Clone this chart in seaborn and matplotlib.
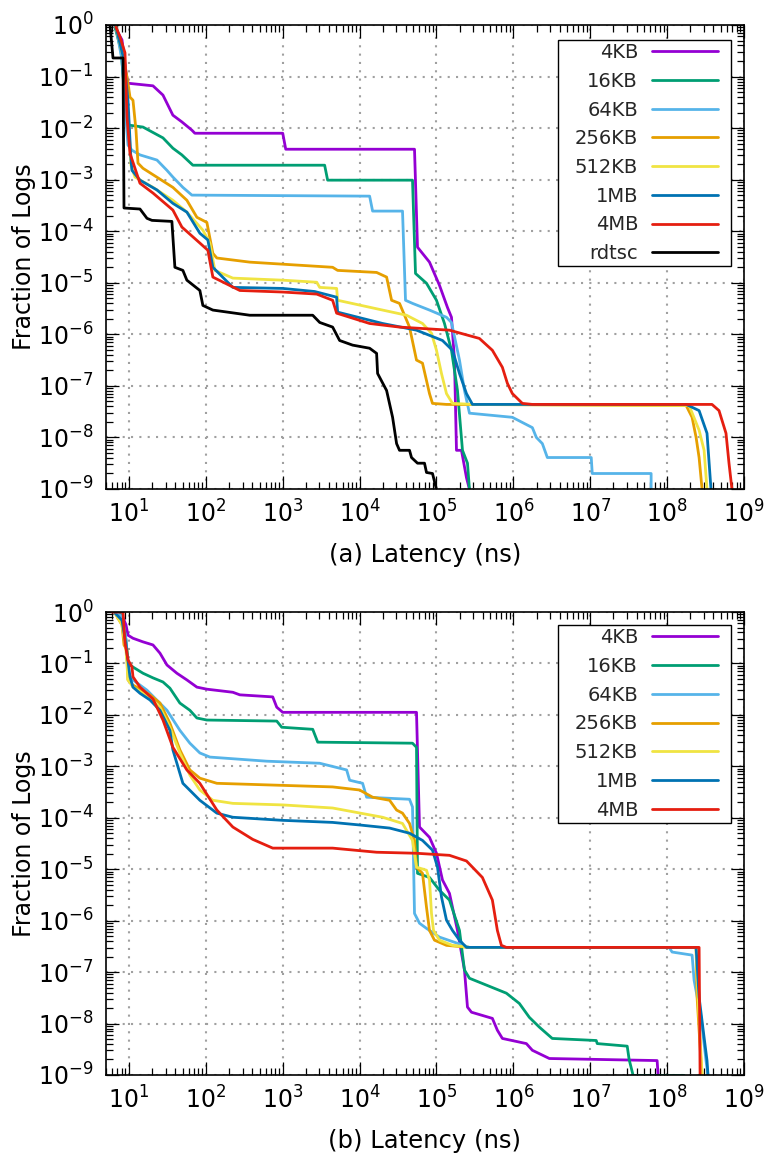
import numpy as np
import pandas as pd
import matplotlib
matplotlib.use("Agg")
import matplotlib.pyplot as plt
import seaborn as sns
from matplotlib.ticker import LogLocator, FixedLocator, NullFormatter
from matplotlib.offsetbox import DrawingArea

# ---------------- data (log10 values) ----------------
SERIES = ["4KB", "16KB", "64KB", "256KB", "512KB", "1MB", "4MB", "rdtsc"]
COLORS = ["#9400d3", "#009e73", "#56b4e9", "#e69f00", "#f0e442", "#0072b2", "#e51e10", "#000000"]

# Panel (a): log10(latency ns), log10(fraction)
A_4KB_X = [0.818, 0.909, 0.961, 0.987, 1.312, 1.442, 1.571, 1.688, 1.818, 1.857, 3.0, 3.039, 4.714, 4.753, 4.909, 5.039, 5.143, 5.195, 5.234, 5.260, 5.325, 5.390, 5.429]
A_4KB_Y = [-0.04, -0.29, -0.91, -1.13, -1.18, -1.36, -1.75, -1.88, -2.04, -2.10, -2.10, -2.41, -2.41, -4.31, -4.60, -5.05, -5.48, -5.67, -6.50, -8.25, -8.25, -8.78, -9.01]
A_16KB_X = [0.818, 0.896, 0.961, 0.987, 1.182, 1.442, 1.571, 1.688, 1.831, 3.545, 3.584, 4.688, 4.727, 4.870, 5.0, 5.104, 5.195, 5.273, 5.338, 5.403, 5.429]
A_16KB_Y = [-0.04, -0.49, -1.65, -1.94, -1.98, -2.19, -2.39, -2.52, -2.72, -2.72, -3.01, -3.01, -4.82, -5.01, -5.34, -5.79, -6.31, -7.09, -8.25, -8.50, -9.01]
A_64KB_X = [0.831, 0.909, 0.961, 0.987, 1.039, 1.143, 1.364, 1.494, 1.571, 1.701, 1.818, 4.130, 4.169, 4.558, 4.597, 4.688, 4.909, 5.130, 5.195, 5.299, 5.364, 5.429, 5.987, 6.117, 6.247, 6.299, 6.377, 6.442, 7.013, 7.026, 7.792, 7.792]
A_64KB_Y = [-0.04, -0.68, -1.84, -2.33, -2.43, -2.52, -2.62, -2.82, -2.95, -3.15, -3.30, -3.32, -3.61, -3.61, -5.34, -5.40, -5.53, -5.67, -5.77, -6.50, -7.09, -7.53, -7.61, -7.71, -7.81, -8.00, -8.12, -8.39, -8.39, -8.70, -8.70, -9.01]
A_256KB_X = [0.831, 0.935, 0.987, 1.013, 1.052, 1.091, 1.117, 1.182, 1.571, 1.753, 1.883, 2.013, 2.091, 2.143, 2.571, 3.649, 3.714, 4.221, 4.351, 4.416, 4.519, 4.649, 4.740, 4.818, 4.909, 4.948, 5.130, 8.247, 8.325, 8.377, 8.416, 8.455]
A_256KB_Y = [-0.04, -0.68, -1.13, -1.40, -1.46, -2.04, -2.68, -2.78, -3.15, -3.40, -3.73, -3.83, -4.43, -4.52, -4.60, -4.70, -4.76, -4.80, -4.89, -5.34, -5.40, -5.86, -6.50, -6.56, -7.15, -7.34, -7.36, -7.38, -7.61, -8.00, -8.39, -9.01]
A_512KB_X = [0.831, 0.935, 0.987, 1.026, 1.078, 1.312, 1.571, 1.753, 1.961, 2.052, 2.117, 2.351, 3.0, 3.442, 3.481, 3.701, 3.714, 4.299, 4.610, 4.818, 4.935, 5.0, 5.065, 5.130, 5.208, 5.468, 8.286, 8.416, 8.481, 8.519]
A_512KB_Y = [-0.04, -0.68, -1.65, -2.72, -2.95, -3.15, -3.40, -3.63, -3.98, -4.23, -4.76, -4.91, -4.95, -4.99, -5.09, -5.11, -5.34, -5.53, -5.63, -5.79, -5.98, -6.31, -6.76, -7.15, -7.34, -7.36, -7.38, -7.86, -8.25, -9.01]
A_1MB_X = [0.831, 0.935, 0.987, 1.026, 1.039, 1.143, 1.364, 1.571, 1.753, 1.922, 2.026, 2.091, 2.351, 3.0, 3.416, 3.701, 3.714, 4.299, 4.740, 5.078, 5.208, 5.299, 5.390, 5.468, 8.247, 8.416, 8.519, 8.571]
A_1MB_Y = [-0.04, -0.68, -1.46, -2.62, -2.82, -3.01, -3.20, -3.46, -3.63, -4.04, -4.17, -4.70, -5.09, -5.11, -5.17, -5.28, -5.57, -5.79, -5.92, -6.12, -6.31, -6.76, -7.15, -7.36, -7.36, -7.48, -7.92, -9.01]
A_4MB_X = [0.831, 0.883, 0.948, 0.974, 1.013, 1.143, 1.312, 1.571, 1.688, 1.922, 2.026, 2.091, 2.442, 3.0, 3.442, 3.649, 3.701, 4.130, 4.519, 5.169, 5.558, 5.727, 5.857, 5.922, 5.987, 6.117, 6.247, 8.584, 8.675, 8.766, 8.805, 8.844]
A_4MB_Y = [-0.04, -0.23, -0.54, -1.79, -2.49, -3.07, -3.26, -3.59, -3.92, -4.23, -4.37, -4.89, -5.15, -5.18, -5.22, -5.34, -5.59, -5.79, -5.86, -5.92, -6.08, -6.31, -6.64, -6.95, -7.15, -7.34, -7.36, -7.36, -7.48, -7.92, -8.50, -9.01]
A_RDTSC_X = [0.753, 0.792, 0.922, 0.935, 1.143, 1.234, 1.299, 1.558, 1.597, 1.701, 1.753, 1.922, 1.961, 2.091, 2.571, 3.390, 3.481, 3.649, 3.740, 3.909, 4.130, 4.221, 4.234, 4.351, 4.429, 4.481, 4.519, 4.649, 4.675, 4.753, 4.844, 4.870, 4.948, 5.0]
A_RDTSC_Y = [0.0, -0.64, -0.64, -3.55, -3.57, -3.75, -3.79, -3.81, -4.70, -4.76, -4.95, -5.15, -5.44, -5.53, -5.63, -5.63, -5.77, -5.86, -6.12, -6.21, -6.27, -6.37, -6.76, -7.09, -7.61, -8.12, -8.25, -8.25, -8.39, -8.50, -8.50, -8.68, -8.70, -9.01]

# Panel (b)
B_4KB_X = [0.818, 0.909, 0.961, 0.974, 0.987, 1.052, 1.182, 1.312, 1.403, 1.494, 1.623, 1.753, 1.883, 2.013, 2.351, 2.442, 2.870, 2.922, 3.0, 4.740, 4.779, 4.909, 5.0, 5.078, 5.169, 5.273, 5.364, 5.403, 5.455, 5.727, 5.792, 5.857, 6.169, 6.247, 6.468, 7.870, 7.883]
B_4KB_Y = [-0.02, -0.06, -0.25, -0.35, -0.45, -0.51, -0.58, -0.64, -0.80, -1.03, -1.19, -1.32, -1.46, -1.50, -1.56, -1.61, -1.65, -1.85, -1.95, -1.95, -4.18, -4.38, -4.69, -5.21, -5.47, -6.19, -6.96, -7.68, -7.78, -7.90, -8.13, -8.29, -8.39, -8.52, -8.68, -8.72, -9.01]
B_16KB_X = [0.818, 0.909, 0.961, 0.987, 1.052, 1.182, 1.312, 1.442, 1.532, 1.662, 1.792, 1.883, 2.013, 2.922, 2.987, 3.390, 3.455, 4.688, 4.740, 4.753, 4.909, 5.039, 5.169, 5.299, 5.364, 5.429, 5.727, 5.909, 6.078, 6.208, 6.338, 6.506, 7.078, 7.091, 7.481, 7.506, 7.558, 8.221]
B_16KB_Y = [-0.02, -0.06, -0.54, -0.99, -1.07, -1.19, -1.28, -1.36, -1.48, -1.77, -1.91, -2.06, -2.10, -2.12, -2.24, -2.28, -2.53, -2.55, -2.63, -5.08, -5.16, -5.41, -5.60, -6.19, -6.96, -7.12, -7.30, -7.41, -7.61, -7.88, -8.07, -8.29, -8.33, -8.39, -8.44, -8.70, -9.01, -9.01]
B_64KB_X = [0.818, 0.909, 0.961, 0.987, 1.052, 1.234, 1.494, 1.662, 1.792, 1.922, 2.052, 2.792, 3.481, 3.831, 3.870, 4.039, 4.091, 4.649, 4.688, 4.714, 4.779, 4.870, 5.039, 5.429, 8.026, 8.065, 8.325, 8.351, 8.442, 8.506, 8.532]
B_64KB_Y = [-0.02, -0.08, -0.54, -1.19, -1.32, -1.52, -1.91, -2.30, -2.55, -2.74, -2.82, -2.90, -2.94, -3.07, -3.27, -3.33, -3.60, -3.64, -3.79, -5.86, -6.05, -6.15, -6.32, -6.52, -6.52, -6.61, -6.67, -7.16, -7.88, -8.72, -9.01]
B_256KB_X = [0.818, 0.909, 0.935, 0.974, 0.987, 1.052, 1.273, 1.403, 1.532, 1.662, 1.792, 1.922, 2.143, 3.0, 3.649, 4.0, 4.169, 4.390, 4.481, 4.558, 4.649, 4.714, 4.740, 4.818, 4.870, 4.909, 4.974, 5.130, 5.429, 8.377, 8.390, 8.442, 8.455]
B_256KB_Y = [-0.02, -0.25, -0.64, -0.74, -1.32, -1.42, -1.61, -1.77, -2.16, -2.68, -3.07, -3.23, -3.33, -3.37, -3.40, -3.46, -3.60, -3.66, -3.85, -3.91, -4.11, -4.44, -4.96, -5.08, -5.74, -6.19, -6.38, -6.48, -6.52, -6.52, -7.49, -8.77, -9.01]
B_512KB_X = [0.818, 0.909, 0.961, 0.987, 1.052, 1.273, 1.403, 1.532, 1.662, 1.792, 1.922, 2.091, 2.351, 3.0, 3.649, 4.299, 4.558, 4.688, 4.740, 4.870, 4.909, 4.935, 4.961, 5.039, 5.208, 5.429, 8.377, 8.403, 8.455]
B_512KB_Y = [-0.02, -0.25, -0.74, -1.32, -1.46, -1.67, -1.85, -2.24, -2.74, -3.17, -3.46, -3.66, -3.72, -3.75, -3.81, -3.99, -4.11, -4.44, -4.96, -5.02, -5.21, -5.86, -6.19, -6.38, -6.48, -6.52, -6.52, -7.55, -9.01]
B_1MB_X = [0.818, 0.909, 0.961, 1.013, 1.052, 1.143, 1.273, 1.403, 1.532, 1.571, 1.701, 1.922, 2.143, 2.351, 3.0, 3.649, 4.0, 4.390, 4.649, 4.818, 4.948, 5.013, 5.065, 5.130, 5.208, 5.299, 5.390, 8.377, 8.416, 8.481, 8.519, 8.532]
B_1MB_Y = [-0.02, -0.16, -0.64, -1.26, -1.46, -1.58, -1.71, -1.91, -2.30, -2.68, -3.33, -3.66, -3.91, -3.99, -4.05, -4.09, -4.14, -4.20, -4.30, -4.44, -4.63, -4.96, -5.54, -5.99, -6.19, -6.38, -6.52, -6.52, -7.49, -8.27, -8.72, -9.01]
B_4MB_X = [0.779, 0.922, 0.948, 0.987, 1.039, 1.052, 1.143, 1.312, 1.442, 1.571, 1.753, 1.922, 2.143, 2.351, 2.610, 2.870, 3.649, 4.221, 4.740, 5.169, 5.390, 5.597, 5.727, 5.792, 5.844, 5.909, 8.416, 8.429]
B_4MB_Y = [0.0, 0.0, -0.60, -0.93, -1.07, -1.26, -1.46, -1.69, -2.10, -2.63, -3.07, -3.33, -3.85, -4.18, -4.42, -4.59, -4.59, -4.67, -4.69, -4.73, -4.84, -5.16, -5.60, -6.19, -6.48, -6.52, -6.52, -9.01]

PANEL_A = [(A_4KB_X, A_4KB_Y), (A_16KB_X, A_16KB_Y), (A_64KB_X, A_64KB_Y), (A_256KB_X, A_256KB_Y),
           (A_512KB_X, A_512KB_Y), (A_1MB_X, A_1MB_Y), (A_4MB_X, A_4MB_Y), (A_RDTSC_X, A_RDTSC_Y)]
PANEL_B = [(B_4KB_X, B_4KB_Y), (B_16KB_X, B_16KB_Y), (B_64KB_X, B_64KB_Y), (B_256KB_X, B_256KB_Y),
           (B_512KB_X, B_512KB_Y), (B_1MB_X, B_1MB_Y), (B_4MB_X, B_4MB_Y)]

X_DECADES = [1, 2, 3, 4, 5, 6, 7, 8, 9]
Y_DECADES = [0, -1, -2, -3, -4, -5, -6, -7, -8, -9]
XLABELS = ["(a) Latency (ns)", "(b) Latency (ns)"]
YLABEL = "Fraction of Logs"

# ---------------- style ----------------
sns.set_style("white")
plt.rcParams["font.family"] = ["DejaVu Sans"]
plt.rcParams["axes.unicode_minus"] = False
plt.rcParams["mathtext.default"] = "regular"

fig = plt.figure(figsize=(7.67, 11.62), dpi=100)
ax_a = fig.add_axes([0.138, 0.5792, 0.832, 0.3993])
ax_b = fig.add_axes([0.138, 0.0749, 0.832, 0.3984])


def draw(ax, panel, xlabel, legend_top):
    for i, (xs, ys) in enumerate(panel):
        df = pd.DataFrame({"lat": 10.0 ** np.array(xs), "frac": 10.0 ** np.array(ys)})
        sns.lineplot(data=df, x="lat", y="frac", ax=ax, sort=False, estimator=None,
                     color=COLORS[i], linewidth=2.0, label=SERIES[i])
    ax.set_xscale("log")
    ax.set_yscale("log")
    ax.set_xlim(5, 1e9)
    ax.set_ylim(1e-9, 1)
    ax.xaxis.set_major_locator(FixedLocator([10.0 ** d for d in X_DECADES]))
    ax.yaxis.set_major_locator(FixedLocator([10.0 ** d for d in Y_DECADES]))
    ax.xaxis.set_minor_locator(LogLocator(base=10, subs=np.arange(2, 10), numticks=200))
    ax.yaxis.set_minor_locator(LogLocator(base=10, subs=np.arange(2, 10), numticks=200))
    ax.xaxis.set_minor_formatter(NullFormatter())
    ax.yaxis.set_minor_formatter(NullFormatter())
    ax.tick_params(which="both", direction="in", bottom=True, left=True, top=True, right=True,
                   color="black", width=0.9)
    ax.tick_params(which="major", length=9.5, labelsize=17, labelcolor="black")
    ax.tick_params(which="minor", length=5)
    ax.tick_params(axis="x", which="major", pad=8)
    ax.tick_params(axis="y", which="major", pad=9)
    ax.grid(True, which="major", color="#a0a0a0", linestyle=(0, (1, 3)), linewidth=1.5)
    ax.grid(False, which="minor")
    for sp in ax.spines.values():
        sp.set_color("black")
        sp.set_linewidth(1.2)
    ax.set_xlabel(xlabel, fontsize=17.5, labelpad=11, color="black")
    ax.set_ylabel(YLABEL, fontsize=17, color="black")
    ax.yaxis.set_label_coords(-0.11, 0.5)
    leg = ax.legend(loc="upper right", bbox_to_anchor=(0.98, legend_top), borderaxespad=0,
                    markerfirst=False, fontsize=14, handlelength=3.4, handletextpad=0.72,
                    labelspacing=0.5, borderpad=0.17, columnspacing=0, fancybox=False,
                    framealpha=1, edgecolor="black")
    leg.get_frame().set_linewidth(1.0)
    # extra horizontal padding inside the legend frame (left wider, as in the reference)
    try:
        kids = leg._legend_handle_box.get_children()
        kids.insert(0, DrawingArea(10, 0))
        kids.append(DrawingArea(7, 0))
    except Exception:
        pass


draw(ax_a, PANEL_A, XLABELS[0], 0.968)
draw(ax_b, PANEL_B, XLABELS[1], 0.972)

fig.savefig("out.png", dpi=100)
